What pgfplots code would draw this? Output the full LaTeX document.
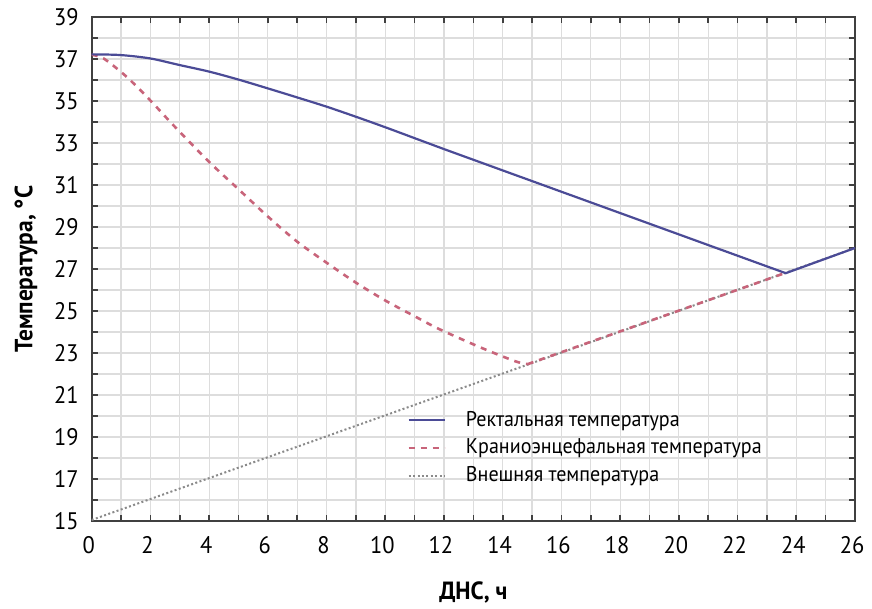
\documentclass[border=0pt]{standalone}
\usepackage{fontspec}
\setmainfont{PT Sans}[FakeStretch=0.94]
\usepackage{pgfplots}
\pgfplotsset{compat=1.18}
\definecolor{rect}{HTML}{4B4B96}
\definecolor{cran}{HTML}{C8647A}
\definecolor{ext}{HTML}{8A8A8A}
\definecolor{gridc}{HTML}{DDDDDD}
\begin{document}
\begin{tikzpicture}
\begin{axis}[name=ax, scale only axis, width=381.65bp, height=252bp,
  xmin=0, xmax=26, ymin=15, ymax=39,
  xtick={0,2,...,26}, ytick={15,17,...,39},
  minor x tick num=1, minor y tick num=1,
  grid=both,
  major grid style={gridc, line width=0.6bp},
  minor grid style={gridc, line width=0.6bp},
  axis line style={black!75, line width=1bp},
  tick style={black!75, line width=0.8bp},
  major tick length=3bp, minor tick length=3bp,
  tick align=inside,
  /pgf/number format/assume math mode=true,
  ticklabel style={font=\fontsize{12}{14}\selectfont},
  xticklabel style={yshift=-4bp, xshift=-1.5bp},
  yticklabel style={xshift=-3bp},
  xlabel={ДНС, ч}, ylabel={Температура, °C},
  label style={font=\fontsize{12.5}{15}\selectfont\bfseries},
  xlabel style={at={(axis description cs:0.5,0)}, yshift=-35.5bp, anchor=center},
  ylabel style={at={(axis description cs:-0.086,0.5)}, anchor=center},
  legend style={draw=none, fill=none, at={(axis cs:10.74,20.45)}, anchor=north west,
    font=\fontsize{10.7}{12}\selectfont, row sep=1.0bp, inner sep=0pt},
  legend cell align=left,
  legend image code/.code={\draw[#1] (0bp,0bp) -- (18bp,0bp); \path (26bp,0bp);},
]
% external temperature
\addplot[ext, line width=1bp, dash pattern=on 1bp off 1.2bp, forget plot] coordinates {(0,15.05) (26,28.0)};
% cranio-encephalic
\addplot[cran, line width=1.3bp, dash pattern=on 3bp off 3bp, smooth, forget plot] coordinates {
(0,37.2) (0.4,37.03) (1.07,36.3) (1.6,35.6) (2.15,34.8) (2.78,33.85) (4,32.1) (5,30.8) (6,29.5) (7,28.3) (8,27.3) (9,26.35) (10,25.5) (11,24.75) (11.85,24.13) (13.32,23.22) (14.46,22.59) (14.85,22.47)};
\addplot[cran, line width=1.3bp, dash pattern=on 3bp off 3bp, forget plot] coordinates {(14.85,22.47) (23.64,26.82)};
% rectal
\addplot[rect, line width=1.1bp, smooth, forget plot] coordinates {
(0,37.22) (0.96,37.19) (1.98,37.03) (3,36.71) (4,36.4) (5,36.02) (6,35.6) (7,35.17) (8,34.73) (9,34.25) (10,33.75) (11,33.23) (12,32.71)};
\addplot[rect, line width=1.1bp, forget plot] coordinates {(12,32.71) (23.64,26.8) (26,28.0)};
% legend entries
\addlegendimage{rect, line width=1.1bp}
\addlegendentry{Ректальная температура}
\addlegendimage{cran, line width=1.3bp, dash pattern=on 3bp off 3bp}
\addlegendentry{Краниоэнцефальная температура}
\addlegendimage{ext, line width=1bp, dash pattern=on 1bp off 1.2bp}
\addlegendentry{Внешняя температура}
\end{axis}
\pgfresetboundingbox
\path[use as bounding box] ([shift={(-45.85bp,-44bp)}]ax.south west) rectangle ([shift={(390.15bp,260.5bp)}]ax.south west);
\end{tikzpicture}
\end{document}
